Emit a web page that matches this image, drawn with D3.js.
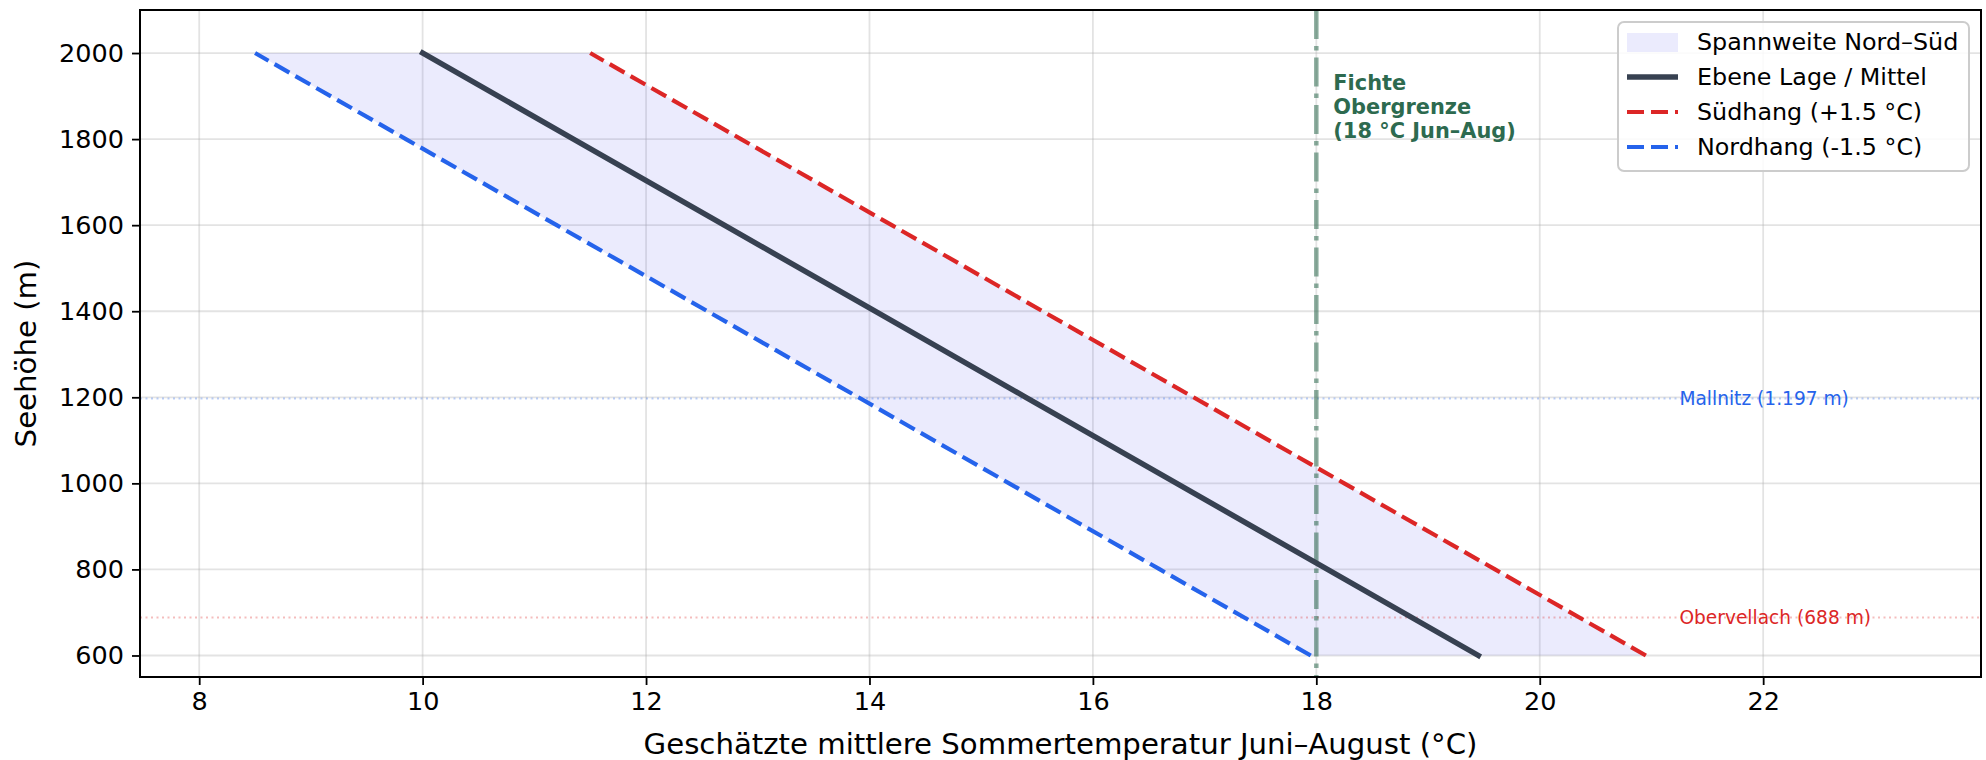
<!DOCTYPE html>
<html>
<head>
<meta charset="utf-8">
<script src="https://cdn.jsdelivr.net/npm/d3@7/dist/d3.min.js"></script>
<style>
  body { margin: 0; background: #fff; }
  text { font-family: "DejaVu Sans", sans-serif; }
</style>
</head>
<body>
<div id="chart"></div>
<script>
// data
var hoehe     = [600, 800, 1000, 1200, 1400, 1600, 1800, 2000];
var mittel    = [19.45, 18.1, 16.75, 15.4, 14.05, 12.7, 11.35, 10.0];
var suedhang  = [20.95, 19.6, 18.25, 16.9, 15.55, 14.2, 12.85, 11.5];
var nordhang  = [17.95, 16.6, 15.25, 13.9, 12.55, 11.2, 9.85, 8.5];
var xTicks    = [8, 10, 12, 14, 16, 18, 20, 22];
var yTicks    = [600, 800, 1000, 1200, 1400, 1600, 1800, 2000];
var fichteGrenze = 18;
var orte      = ["Mallnitz (1.197 m)", "Obervellach (688 m)"];
var ortHoehe  = [1197, 688];
var ortFarbe  = ["#2563eb", "#dc2626"];
var legendeText = ["Spannweite Nord–Süd", "Ebene Lage / Mittel", "Südhang (+1.5 °C)", "Nordhang (-1.5 °C)"];

var width = 1986, height = 760;
var margin = {left: 140, top: 10, right: 5, bottom: 83};
var drawWidth = width - margin.left - margin.right;
var drawHeight = height - margin.top - margin.bottom;

var svg = d3.select("#chart").append("svg")
  .attr("width", width)
  .attr("height", height);

var canvas = svg.append("g")
  .attr("transform", "translate(" + margin.left + "," + margin.top + ")");

var x = d3.scaleLinear().domain([7.47, 23.95]).range([0, drawWidth]);
var y = d3.scaleLinear().domain([550, 2100]).range([drawHeight, 0]);

// grid
canvas.append("g").selectAll("line.vg")
  .data(xTicks).enter().append("line")
  .attr("x1", function(d){ return x(d); }).attr("x2", function(d){ return x(d); })
  .attr("y1", 0).attr("y2", drawHeight)
  .attr("stroke", "#b0b0b0").attr("stroke-opacity", 0.35).attr("stroke-width", 1.8);
canvas.append("g").selectAll("line.hg")
  .data(yTicks).enter().append("line")
  .attr("y1", function(d){ return y(d); }).attr("y2", function(d){ return y(d); })
  .attr("x1", 0).attr("x2", drawWidth)
  .attr("stroke", "#b0b0b0").attr("stroke-opacity", 0.35).attr("stroke-width", 1.8);

// band between north and south slope
var bandData = hoehe.map(function(h, i){ return {h: h, lo: nordhang[i], hi: suedhang[i]}; });
canvas.append("path")
  .datum(bandData)
  .attr("fill", "#6366f1")
  .attr("fill-opacity", 0.13)
  .attr("d", d3.area()
    .y(function(d){ return y(d.h); })
    .x0(function(d){ return x(d.lo); })
    .x1(function(d){ return x(d.hi); }));

// station lines
orte.forEach(function(name, i){
  canvas.append("line")
    .attr("x1", 0).attr("x2", drawWidth)
    .attr("y1", y(ortHoehe[i])).attr("y2", y(ortHoehe[i]))
    .attr("stroke", ortFarbe[i]).attr("stroke-opacity", 0.3)
    .attr("stroke-width", 2).attr("stroke-dasharray", "2,3.5");
  canvas.append("text")
    .attr("x", x(21.25)).attr("y", y(ortHoehe[i]))
    .attr("dy", "0.35em")
    .attr("font-size", 18.6)
    .attr("fill", ortFarbe[i])
    .text(name);
});

// Fichte upper limit
canvas.append("line")
  .attr("x1", x(fichteGrenze)).attr("x2", x(fichteGrenze))
  .attr("y1", 0).attr("y2", drawHeight)
  .attr("stroke", "#2d6a4f").attr("stroke-opacity", 0.55)
  .attr("stroke-width", 4.5)
  .attr("stroke-dasharray", "29,7,4.5,7");

var fichteLabel = canvas.append("text")
  .attr("x", x(fichteGrenze) + 17)
  .attr("y", 80)
  .attr("font-size", 20.9)
  .attr("font-weight", "bold")
  .attr("fill", "#2d6a4f");
["Fichte", "Obergrenze", "(18 °C Jun–Aug)"].forEach(function(t, i){
  fichteLabel.append("tspan").attr("x", x(fichteGrenze) + 17).attr("dy", i == 0 ? 0 : 24).text(t);
});

// lines
var line = function(vals){
  return d3.line()
    .x(function(d, i){ return x(vals[i]); })
    .y(function(d){ return y(d); })(hoehe);
};
canvas.append("path").attr("d", line(nordhang))
  .attr("fill", "none").attr("stroke", "#2563eb").attr("stroke-width", 4.2)
  .attr("stroke-dasharray", "17,7");
canvas.append("path").attr("d", line(suedhang))
  .attr("fill", "none").attr("stroke", "#dc2626").attr("stroke-width", 4.2)
  .attr("stroke-dasharray", "17,7");
canvas.append("path").attr("d", line(mittel))
  .attr("fill", "none").attr("stroke", "#374151").attr("stroke-width", 5.5)
  .attr("stroke-linecap", "square");

// axes
var xAxis = svg.append("g")
  .attr("transform", "translate(" + margin.left + "," + (margin.top + drawHeight) + ")")
  .call(d3.axisBottom(x).tickValues(xTicks).tickSize(8).tickPadding(7).tickFormat(d3.format("d")));
var yAxis = svg.append("g")
  .attr("transform", "translate(" + margin.left + "," + margin.top + ")")
  .call(d3.axisLeft(y).tickValues(yTicks).tickSize(8).tickPadding(8).tickFormat(d3.format("d")));
[xAxis, yAxis].forEach(function(a){
  a.select(".domain").remove();
  a.selectAll(".tick line").attr("stroke", "#000").attr("stroke-width", 1.8);
  a.selectAll(".tick text").attr("font-size", 25.5).attr("fill", "#000")
    .style("font-family", "DejaVu Sans, sans-serif");
});

// frame
canvas.append("rect")
  .attr("x", 0).attr("y", 0).attr("width", drawWidth).attr("height", drawHeight)
  .attr("fill", "none").attr("stroke", "#000").attr("stroke-width", 2);

// axis titles
svg.append("text")
  .attr("text-anchor", "middle")
  .attr("x", margin.left + drawWidth / 2)
  .attr("y", 754)
  .attr("font-size", 29.2)
  .text("Geschätzte mittlere Sommertemperatur Juni–August (°C)");
svg.append("text")
  .attr("text-anchor", "middle")
  .attr("transform", "translate(36," + (margin.top + drawHeight / 2 + 10) + ") rotate(-90)")
  .attr("font-size", 29.2)
  .text("Seehöhe (m)");

// legend
var lg = svg.append("g").attr("transform", "translate(1618,22)");
lg.append("rect")
  .attr("width", 351).attr("height", 149).attr("rx", 6)
  .attr("fill", "#fff").attr("fill-opacity", 0.85)
  .attr("stroke", "#cccccc").attr("stroke-width", 2);
var rowY = function(i){ return 20 + i * 35; };
lg.append("rect").attr("x", 9).attr("y", rowY(0) - 9).attr("width", 51).attr("height", 19)
  .attr("fill", "#6366f1").attr("fill-opacity", 0.13);
lg.append("line").attr("x1", 9).attr("x2", 60).attr("y1", rowY(1)).attr("y2", rowY(1))
  .attr("stroke", "#374151").attr("stroke-width", 5.5);
lg.append("line").attr("x1", 9).attr("x2", 60).attr("y1", rowY(2)).attr("y2", rowY(2))
  .attr("stroke", "#dc2626").attr("stroke-width", 4.2).attr("stroke-dasharray", "17,7");
lg.append("line").attr("x1", 9).attr("x2", 60).attr("y1", rowY(3)).attr("y2", rowY(3))
  .attr("stroke", "#2563eb").attr("stroke-width", 4.2).attr("stroke-dasharray", "17,7");
lg.selectAll("text.lt").data(legendeText).enter().append("text")
  .attr("x", 79)
  .attr("y", function(d, i){ return rowY(i); })
  .attr("dy", "0.35em")
  .attr("font-size", 23.8)
  .text(function(d){ return d; });
</script>
</body>
</html>
